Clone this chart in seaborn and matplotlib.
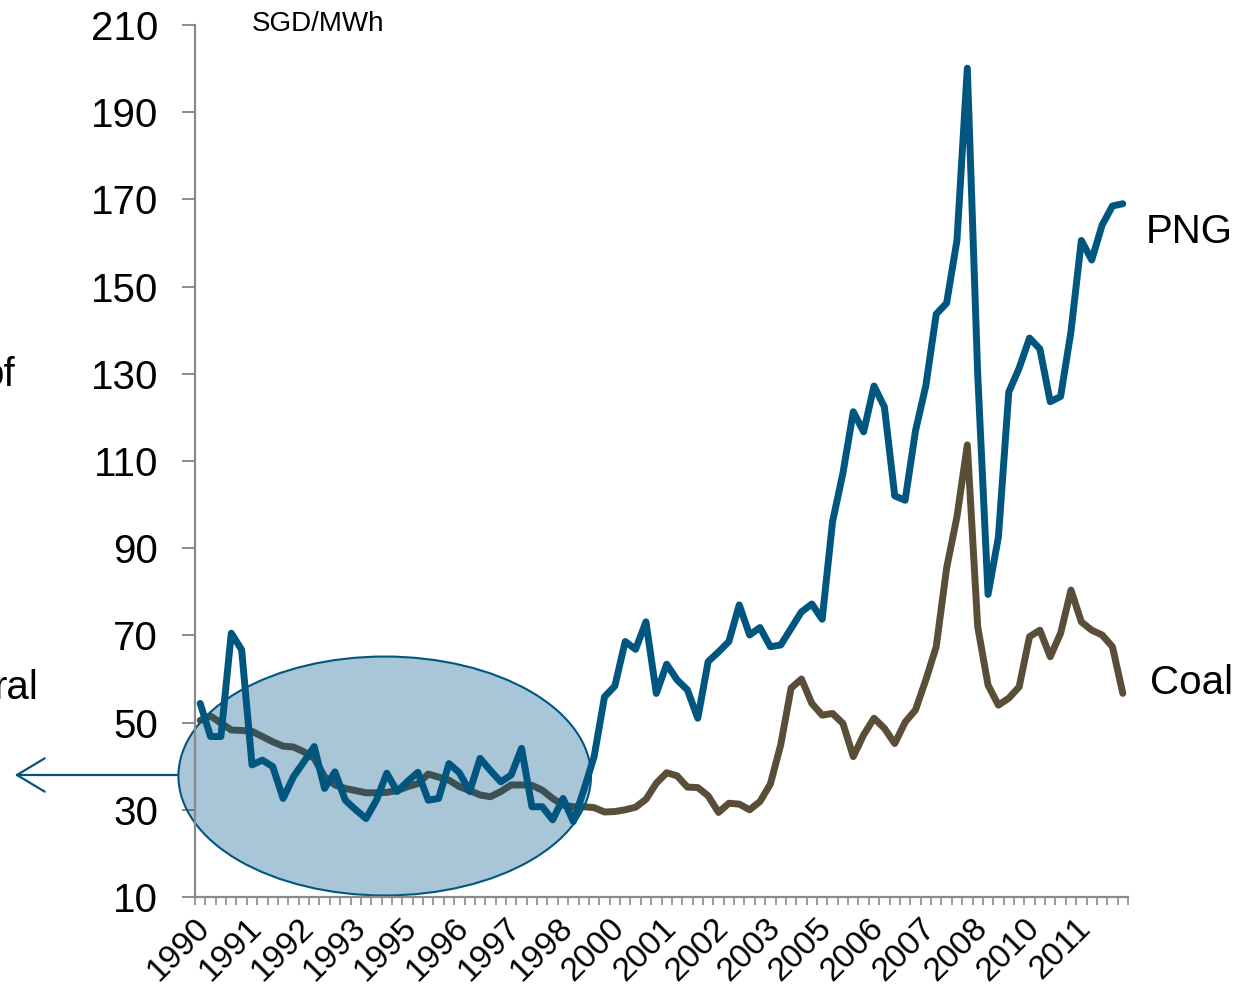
import numpy as np
import pandas as pd
import matplotlib
matplotlib.use("Agg")
import matplotlib.pyplot as plt
import matplotlib.transforms as mtransforms
import seaborn as sns
from matplotlib.patches import Ellipse, FancyArrowPatch, ArrowStyle

# Quarterly fuel prices, SGD/MWh, 1990Q1 onwards
png_price = [
    54.4, 46.8, 46.8, 70.5, 66.7, 40.3, 41.4, 39.9, 32.6, 37.6,
    41.0, 44.5, 34.9, 38.7, 32.2, 30.0, 28.0, 32.2, 38.4, 34.2,
    36.5, 38.6, 32.2, 32.6, 40.6, 38.5, 34.2, 41.8, 39.0, 36.4,
    38.0, 44.1, 30.7, 30.7, 27.7, 32.6, 27.3, 34.5, 42.2, 55.9,
    58.4, 68.6, 66.8, 73.1, 56.7, 63.4, 59.8, 57.5, 51.0, 64.0,
    66.2, 68.6, 77.0, 70.1, 71.8, 67.4, 67.8, 71.6, 75.4, 77.2,
    73.7, 96.1, 107.2, 121.3, 116.7, 127.2, 122.4, 102.0, 101.0, 116.9,
    127.3, 143.7, 146.2, 160.6, 200.1, 130.0, 79.4, 92.6, 125.8, 131.3,
    138.2, 135.7, 123.6, 124.8, 139.7, 160.6, 156.1, 164.1, 168.5, 169.0,
]
coal_price = [
    50.5, 51.5, 49.9, 48.3, 48.2, 48.0, 46.8, 45.6, 44.6, 44.4,
    43.3, 41.8, 37.6, 35.7, 34.9, 34.4, 33.9, 33.9, 34.0, 34.4,
    35.3, 36.0, 38.2, 37.5, 36.8, 35.3, 34.4, 33.4, 33.0, 34.2,
    35.7, 35.7, 35.6, 34.5, 32.6, 31.1, 30.7, 30.7, 30.5, 29.5,
    29.6, 30.0, 30.6, 32.4, 36.1, 38.5, 37.8, 35.2, 35.1, 33.2,
    29.4, 31.5, 31.3, 30.0, 31.9, 35.9, 44.9, 57.9, 60.0, 54.4,
    51.7, 52.1, 49.8, 42.2, 47.2, 51.0, 48.7, 45.2, 50.1, 52.9,
    59.8, 67.4, 85.4, 97.2, 113.7, 72.0, 58.6, 54.0, 55.6, 58.2,
    69.7, 71.2, 65.1, 70.5, 80.4, 73.1, 71.2, 70.1, 67.4, 56.7,
]
year_labels = ["1990", "1991", "1992", "1993", "1995", "1996", "1997", "1998",
               "2000", "2001", "2002", "2003", "2005", "2006", "2007", "2008",
               "2010", "2011"]
label_step = 5
y_ticks = [10, 30, 50, 70, 90, 110, 130, 150, 170, 190, 210]

df = pd.DataFrame({"q": np.arange(len(png_price)), "PNG": png_price, "Coal": coal_price})

sns.set_style("white")
plt.rcParams["font.family"] = ["Liberation Sans", "DejaVu Sans"]
plt.rcParams["text.color"] = "black"
plt.rcParams["xtick.color"] = "black"
plt.rcParams["ytick.color"] = "black"

PNG_BLUE = "#00567f"
COAL_BROWN = "#5a4e38"
AXIS_GREY = "#8a8a8a"

fig = plt.figure(figsize=(12.5, 9.86), dpi=100)
ax = fig.add_axes([195 / 1250, 1 - 897 / 986, (1128 - 195) / 1250, (897 - 25) / 986])

sns.lineplot(data=df, x="q", y="Coal", ax=ax, color=COAL_BROWN, linewidth=5.0,
             estimator=None, zorder=2, solid_joinstyle="round", solid_capstyle="round")
sns.lineplot(data=df, x="q", y="PNG", ax=ax, color=PNG_BLUE, linewidth=5.0,
             estimator=None, zorder=3, solid_joinstyle="round", solid_capstyle="round")

n = len(df)
ax.set_xlim(-0.5, n - 0.5)
ax.set_ylim(10, 210)
ax.set_xlabel("")
ax.set_ylabel("")

# highlighted low-price period
ell = Ellipse((17.8, 37.75), width=39.8, height=54.8, facecolor=(0.0, 0.35, 0.55, 0.34),
              edgecolor=PNG_BLUE, linewidth=1.5, zorder=2.2, clip_on=False)
ax.add_patch(ell)

# arrow leading out of the highlighted period
arrow = FancyArrowPatch((180 / 1250, 1 - 775 / 986), (12 / 1250, 1 - 775 / 986),
                        transform=fig.transFigure, arrowstyle=ArrowStyle("->", head_length=1.0, head_width=0.6),
                        mutation_scale=20, color=PNG_BLUE, linewidth=1.6)
fig.add_artist(arrow)

# axes styling
for side in ("top", "right"):
    ax.spines[side].set_visible(False)
for side in ("left", "bottom"):
    ax.spines[side].set_color(AXIS_GREY)
    ax.spines[side].set_linewidth(1.6)

ax.set_yticks(y_ticks)
ax.set_yticklabels([str(v) for v in y_ticks])
ax.tick_params(axis="y", direction="out", length=9.5, width=1.4, color=AXIS_GREY,
               labelcolor="black", labelsize=29, pad=17, left=True)

ax.set_xticks(np.arange(0, label_step * len(year_labels), label_step))
ax.set_xticklabels(year_labels, rotation=45, ha="right", va="center", rotation_mode="anchor")
ax.tick_params(axis="x", which="major", length=0, labelsize=24, labelcolor="black", pad=19)
shift = mtransforms.ScaledTranslation(5 / 100, 0, fig.dpi_scale_trans)
for lbl in ax.get_xticklabels():
    lbl.set_transform(lbl.get_transform() + shift)
ax.set_xticks(np.arange(-0.5, n, 1.0), minor=True)
ax.tick_params(axis="x", which="minor", direction="out", length=6, width=1.2, color=AXIS_GREY,
               bottom=True)

# series labels
ax.text(91.2, 162.5, "PNG", fontsize=29, va="center", ha="left", clip_on=False)
ax.text(91.6, 59.0, "Coal", fontsize=29, va="center", ha="left", clip_on=False)

fig.text(252 / 1250, 1 - 24 / 986, "SGD/MWh", fontsize=20, va="center", ha="left")
fig.text(15 / 1250, 1 - 375 / 986, "of", fontsize=29, va="center", ha="right")
fig.text(38 / 1250, 1 - 688 / 986, "ral", fontsize=29, va="center", ha="right")

fig.savefig("out.png", dpi=100)
